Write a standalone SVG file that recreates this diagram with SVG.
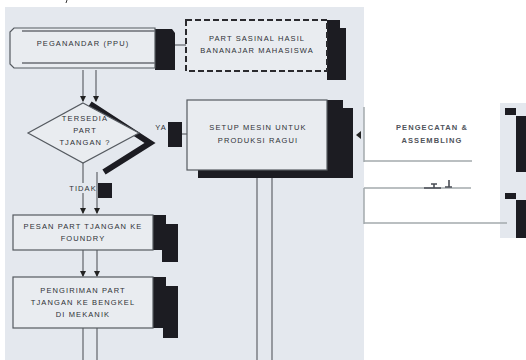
<svg xmlns="http://www.w3.org/2000/svg" width="526" height="360" viewBox="0 0 526 360">
<style>
.bg{fill:#e4e8ee}
.box{fill:#e9ecf0;stroke:#555a60;stroke-width:1.2}
.dash{fill:#e9ecf0;stroke:#2a2a2e;stroke-width:2;stroke-dasharray:6 3}
.sh{fill:#1c1c22}
.ln{stroke:#6a6e74;stroke-width:1.3;fill:none}
.gl{stroke:#a3aaad;stroke-width:1.5;fill:none}
.t{font-family:"Liberation Sans",Arial,sans-serif;font-size:7.5px;fill:#2e3136;letter-spacing:1.1px;text-anchor:middle}
.tg{font-family:"Liberation Sans",Arial,sans-serif;font-size:7.5px;fill:#4f545b;letter-spacing:1.1px;text-anchor:middle;font-weight:bold}
</style>
<defs>
<marker id="ah" viewBox="0 0 6 6" refX="5" refY="3" markerWidth="5" markerHeight="5" orient="auto"><path d="M0,0L6,3L0,6z" fill="#222"/></marker>
</defs>
<rect width="526" height="360" fill="#ffffff"/>
<rect class="bg" x="5" y="7" width="359" height="353"/>
<rect class="bg" x="500" y="103" width="26" height="135"/>
<path d="M67,0 L66,3" stroke="#333" stroke-width="1"/>

<g id="connectors">
<line class="ln" x1="175" y1="45" x2="186" y2="45"/>
<line class="ln" x1="83" y1="70" x2="83" y2="101" marker-end="url(#ah)"/>
<line class="ln" x1="96" y1="70" x2="96" y2="101" marker-end="url(#ah)"/>
<path d="M90,104 L150,143 L104,172" stroke="#1c1c22" stroke-width="6" fill="none"/>
<line class="ln" x1="182" y1="134" x2="188" y2="134"/>
<rect class="sh" x="168" y="122" width="14" height="25"/>
<line class="ln" x1="83" y1="163" x2="83" y2="183"/>
<line class="ln" x1="83" y1="193" x2="83" y2="213" marker-end="url(#ah)"/>
<line class="ln" x1="97" y1="172" x2="97" y2="213" marker-end="url(#ah)"/>
<rect class="sh" x="98" y="183" width="14" height="15"/>
<line class="ln" x1="83" y1="250" x2="83" y2="276" marker-end="url(#ah)"/>
<line class="ln" x1="97" y1="250" x2="97" y2="276" marker-end="url(#ah)"/>
<line class="ln" x1="83" y1="328" x2="83" y2="360"/>
<line class="ln" x1="97" y1="328" x2="97" y2="360"/>
<line class="ln" x1="257" y1="178" x2="257" y2="360"/>
<line class="ln" x1="272" y1="178" x2="272" y2="360"/>
<path d="M361,131 L356,135 L361,139z" fill="#222"/>
<line class="gl" x1="364" y1="107" x2="364" y2="162"/>
<line class="gl" x1="364" y1="188" x2="364" y2="224"/>
<line class="gl" x1="364" y1="161" x2="472" y2="161"/>
<line class="gl" x1="364" y1="188" x2="471" y2="188"/>
<line class="gl" x1="364" y1="223" x2="507" y2="223"/>
<path d="M424,188 L441,188 M431,184 L437,184 M434,184 L434,188 M445,187 L452,187 M449,180 L449,187" stroke="#4a4e55" stroke-width="1.6" fill="none"/>
</g>

<g id="n-pemandar">
<path class="sh" d="M155,29 L172,29 L175,33 L175,70 L155,70z"/>
<path class="box" d="M14,28 L155,28 L155,68 L14,68 L10,64 L10,32z"/>
<line class="ln" x1="22" y1="31" x2="155" y2="31"/>
<line class="ln" x1="22" y1="63" x2="155" y2="63"/>
<text class="t" x="83" y="46">PEGANANDAR (PPU)</text>
</g>

<g id="n-part">
<path class="sh" d="M327,20 L340,20 L340,28 L346,28 L346,80 L327,80z"/>
<rect class="dash" x="186" y="20" width="141" height="51"/>
<text class="t" x="257" y="41">PART SASINAL HASIL</text>
<text class="t" x="257" y="53">BANANAJAR MAHASISWA</text>
</g>

<g id="n-tersedia">
<path class="box" d="M83,103 L139,133 L83,163 L28,133z" fill="none"/>
<text class="t" x="85" y="121">TERSEDIA</text>
<text class="t" x="85" y="133">PART</text>
<text class="t" x="85" y="145">TJANGAN ?</text>
</g>
<text class="t" x="161" y="130">YA</text>
<text class="t" x="83" y="191">TIDAK</text>

<g id="n-setup">
<path class="sh" d="M327,100 L343,100 L343,108 L353,108 L353,178 L198,178 L198,170 L327,170z"/>
<rect class="box" x="187" y="100" width="140" height="70"/>
<text class="t" x="258" y="130">SETUP MESIN UNTUK</text>
<text class="t" x="258" y="143">PRODUKSI RAGUI</text>
</g>

<g id="n-pesan">
<path class="sh" d="M153,215 L166,215 L166,224 L178,224 L178,262 L162,262 L162,250 L153,250z"/>
<rect class="box" x="13" y="215" width="140" height="35"/>
<text class="t" x="83" y="229">PESAN PART TJANGAN KE</text>
<text class="t" x="83" y="241">FOUNDRY</text>
</g>

<g id="n-pengiriman">
<path class="sh" d="M153,277 L166,277 L166,286 L178,286 L178,338 L163,338 L163,328 L153,328z"/>
<rect class="box" x="13" y="277" width="140" height="51"/>
<text class="t" x="83" y="293">PENGIRIMAN PART</text>
<text class="t" x="83" y="305">TJANGAN KE BENGKEL</text>
<text class="t" x="83" y="317">DI MEKANIK</text>
</g>

<g id="n-pengecatan">
<text class="tg" x="432" y="130">PENGECATAN &amp;</text>
<text class="tg" x="432" y="143">ASSEMBLING</text>
</g>

<g id="n-right">
<path class="sh" d="M505,108 L516,108 L516,116 L526,116 L526,172 L516,172 L516,115 L505,115z"/>
<path class="sh" d="M505,193 L516,193 L516,200 L526,200 L526,238 L516,238 L516,199 L505,199z"/>
</g>
</svg>
